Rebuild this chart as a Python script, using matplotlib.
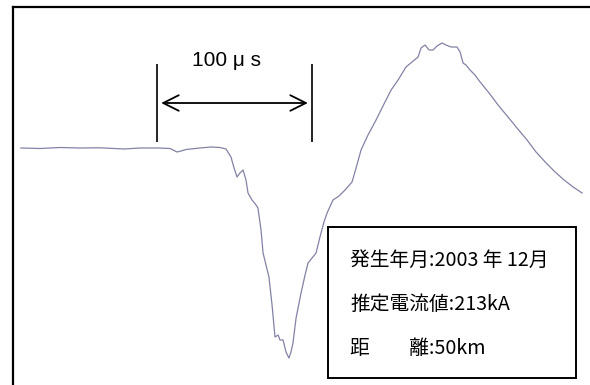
import matplotlib
matplotlib.use("Agg")
import matplotlib.pyplot as plt
from matplotlib.patches import Rectangle

# Recorded waveform: time in microseconds, amplitude in relative units
time_us = [0.6, 12.9, 25.8, 38.7, 51.6, 67.1, 77.4, 89.0, 96.8, 101.3, 103.9, 107.1,
           116.1, 123.2, 129.0, 132.9, 136.1, 138.1, 140.0, 141.9, 143.9, 145.8,
           147.1, 149.7, 152.3, 153.5, 155.5, 156.8, 158.7, 160.6, 162.6, 164.5,
           166.5, 167.7, 169.7, 171.6, 173.5, 174.8, 176.1, 178.1, 181.3, 183.9,
           185.8, 188.4, 191.0, 193.5, 196.1, 198.1, 201.9, 205.8, 209.7, 214.2,
           216.8, 220.0, 224.5, 229.7, 234.8, 239.4, 243.9, 249.0, 252.9, 256.8,
           258.7, 261.3, 263.9, 266.5, 269.0, 272.3, 274.8, 278.1, 281.9, 283.9,
           285.8, 287.7, 290.3, 293.5, 296.8, 302.6, 308.4, 314.8, 320.6, 327.1,
           332.9, 339.4, 345.2, 351.0, 356.8, 362.6]
amplitude = [0.0, -0.05, 0.05, 0.0, 0.02, -0.1, 0.0, 0.0, -0.05, -0.4, -0.3, -0.15,
             0.0, 0.1, 0.05, -0.1, -0.9, -2.0, -2.9, -2.5, -2.2, -3.2,
             -4.5, -5.2, -5.7, -6.0, -8.2, -10.5, -11.7, -12.9, -15.7, -18.9,
             -18.7, -19.2, -19.2, -20.4, -21.0, -20.4, -19.5, -17.0, -14.5, -12.7,
             -11.5, -11.0, -10.5, -8.9, -7.4, -6.5, -5.2, -4.8, -4.2, -3.4,
             -2.0, -0.2, 1.3, 2.8, 4.4, 5.8, 6.8, 8.1, 8.6, 9.1,
             10.0, 10.3, 9.8, 9.8, 10.2, 10.5, 10.3, 10.1, 10.1, 9.6,
             8.5, 8.3, 7.8, 7.3, 6.6, 5.5, 4.3, 3.1, 2.0, 0.8,
             -0.4, -1.5, -2.4, -3.2, -3.9, -4.5]

# Time-scale marker
span_start_us = 88.4
span_len_us = 100
span_label = "100 μ s"

# Event information
info_lines = ["発生年月:2003 年 12月", "推定電流値:213kA", "距　　離:50km"]

W, H = 590, 385
fig = plt.figure(figsize=(W / 100, H / 100), dpi=100)
fig.patch.set_facecolor("white")

ax = fig.add_axes([13 / W, 0, 1 - 13 / W, 1 - 7 / H])
ax.set_xlim(-4.5, 367.7)
ax.set_ylim(-23.7, 14.1)
for side in ("right", "bottom"):
    ax.spines[side].set_visible(False)
for side in ("left", "top"):
    ax.spines[side].set_linewidth(1.6)
    ax.spines[side].set_color("black")
ax.set_xticks([])
ax.set_yticks([])

ax.plot(time_us, amplitude, color="#8282a6", lw=0.9, zorder=2)

# 100 us scale bar
span_end_us = span_start_us + span_len_us
for t in (span_start_us, span_end_us):
    ax.plot([t, t], [0.6, 8.4], color="black", lw=1.2, solid_capstyle="butt")
ax.annotate("", xy=(span_start_us, 4.5), xytext=(span_end_us, 4.5),
            arrowprops=dict(arrowstyle="<->,head_length=0.8,head_width=0.4",
                            mutation_scale=14, lw=1.3, color="black",
                            shrinkA=3, shrinkB=3))
ax.text(span_start_us + 45, 8.8, span_label, ha="center", va="center",
        fontsize=15, family=["Liberation Sans", "DejaVu Sans"])

# Information box
box = Rectangle((328 / W, (H - 378) / H), 248 / W, 151 / H, transform=fig.transFigure,
                facecolor="white", edgecolor="black", lw=1.4, zorder=5)
fig.patches.append(box)
for i, line in enumerate(info_lines):
    fig.text(350 / W, (H - 260 - i * 44) / H, line, ha="left", va="center",
             fontsize=14.2, family=["Noto Sans CJK JP", "DejaVu Sans"], zorder=6)

fig.savefig("out.png", dpi=100, facecolor="white")
